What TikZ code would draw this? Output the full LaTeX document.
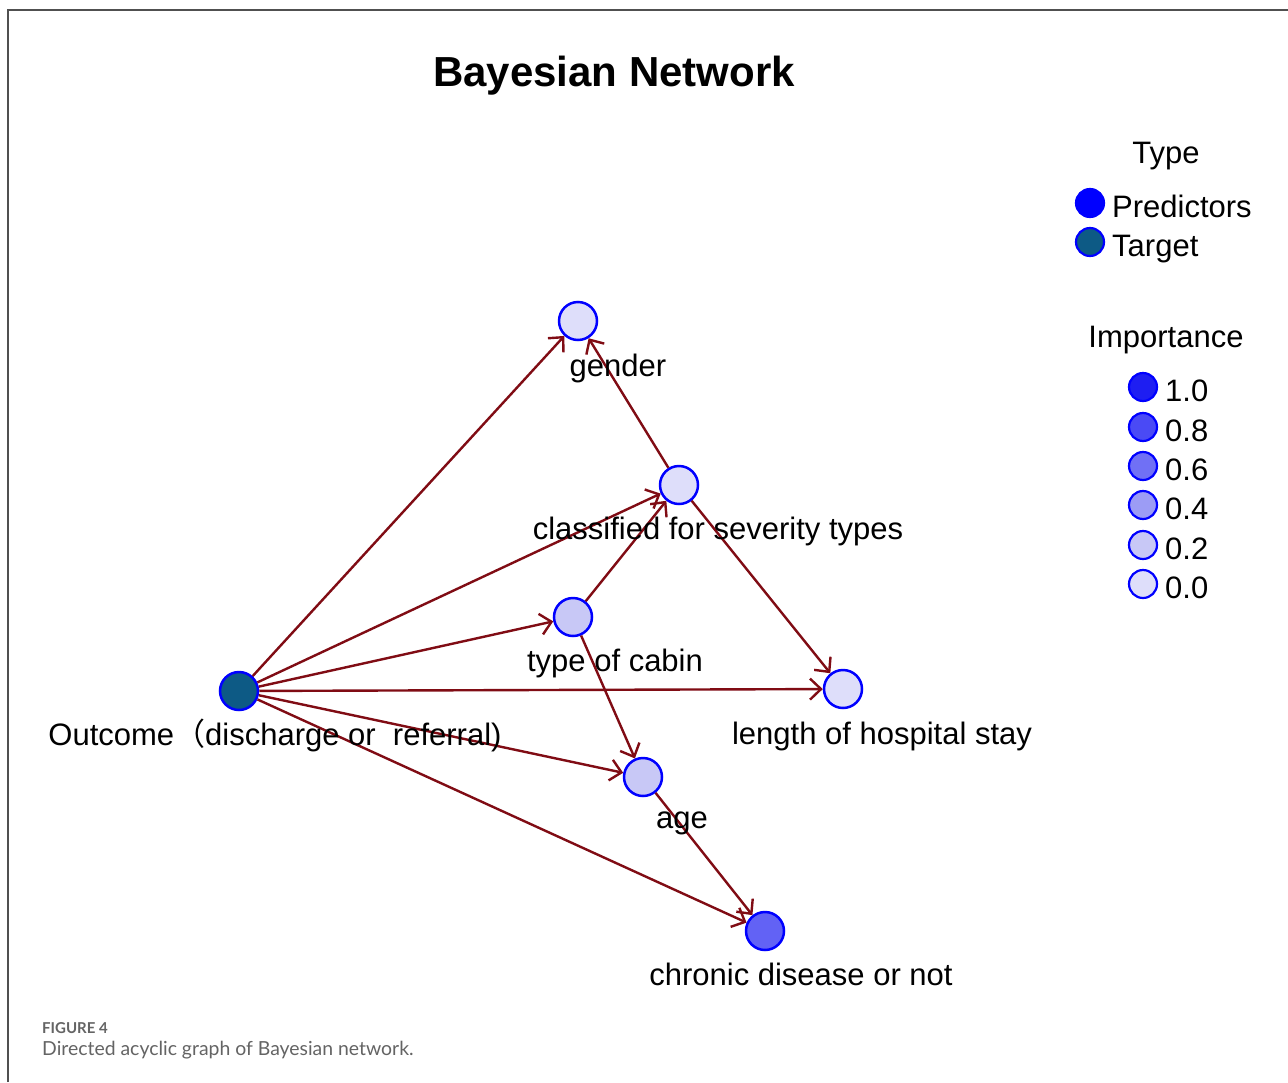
\documentclass[tikz,border=0pt]{standalone}
\usepackage{fontspec}
\setmainfont{Liberation Sans}
\newfontfamily\cjk{Noto Sans CJK SC}
\newfontfamily\capfont{Lato}
\usetikzlibrary{arrows.meta}
\definecolor{edgecol}{RGB}{128,12,20}
\definecolor{framecol}{RGB}{80,80,80}
\definecolor{impA}{RGB}{222,222,250}
\definecolor{impB}{RGB}{200,200,246}
\definecolor{impC}{RGB}{156,156,245}
\definecolor{impD}{RGB}{112,112,245}
\definecolor{impE}{RGB}{74,74,245}
\definecolor{impF}{RGB}{30,30,242}
\definecolor{chroniccol}{RGB}{98,98,245}
\definecolor{targetcol}{RGB}{13,90,133}
\definecolor{capgray}{RGB}{100,100,100}
\begin{document}
\begin{tikzpicture}[x=1pt,y=-1pt,
  bnode/.style={circle, draw=blue, line width=2.5pt, minimum size=38pt, inner sep=0pt},
  legnode/.style={circle, draw=blue, line width=2.2pt, minimum size=28pt, inner sep=0pt},
  conn/.style={draw=edgecol, line width=2.4pt, -{Straight Barb[length=11pt,width=21pt,line width=2.4pt]}},
  lbl/.style={anchor=base, inner sep=0pt, font=\fontsize{31}{36}\selectfont},
  leglbl/.style={anchor=base west, inner sep=0pt, font=\fontsize{31}{36}\selectfont}]
\useasboundingbox (0,0) rectangle (1288,1082);
\fill[white] (0,0) rectangle (1288,1082);
% frame
\draw[framecol, line width=2.5pt] (8,1082) -- (8,10) -- (1290,10);
% title
\node[anchor=base, inner sep=0pt, font=\bfseries\fontsize{42}{48}\selectfont] (title) at (614,86) {Bayesian Network};
% nodes
\node[bnode, fill=impA] (gender) at (578,321) {};
\node[bnode, fill=impA] (sev) at (679,485) {};
\node[bnode, fill=impB] (cabin) at (573,617) {};
\node[bnode, fill=targetcol] (out) at (239,691) {};
\node[bnode, fill=impA] (stay) at (843,689) {};
\node[bnode, fill=impB] (age) at (643,777) {};
\node[bnode, fill=chroniccol] (chron) at (765,931) {};
% edges
\draw[conn] (out) -- (gender);
\draw[conn] (out) -- (sev);
\draw[conn] (out) -- (cabin);
\draw[conn] (out) -- (stay);
\draw[conn] (out) -- (age);
\draw[conn] (out) -- (chron);
\draw[conn] (sev) -- (gender);
\draw[conn] (sev) -- (stay);
\draw[conn] (cabin) -- (sev);
\draw[conn] (cabin) -- (age);
\draw[conn] (age) -- (chron);
% labels
\node[lbl] (lgender) at (618,376) {gender};
\node[lbl] (lsev) at (718,539) {classified for severity types};
\node[lbl] (lcabin) at (615,671) {type of cabin};
\node[lbl] (lout) at (275,745) {Outcome{\cjk （}discharge or\ \ referral)};
\node[lbl] (lstay) at (882,744) {length of hospital stay};
\node[lbl] (lage) at (682,828) {age};
\node[lbl] (lchron) at (801,985) {chronic disease or not};
% legend
\node[lbl] (ltype) at (1166,163) {Type};
\node[legnode, draw=blue, fill=blue] (kpred) at (1090,203) {};
\node[leglbl] (tpred) at (1112,217) {Predictors};
\node[legnode, fill=targetcol] (ktarg) at (1090,242) {};
\node[leglbl] (ttarg) at (1112,256) {Target};
\node[lbl] (limp) at (1166,347) {Importance};
\node[legnode, fill=impF] (k10) at (1143,387) {};
\node[legnode, fill=impE] (k08) at (1143,427) {};
\node[legnode, fill=impD] (k06) at (1143,466) {};
\node[legnode, fill=impC] (k04) at (1143,505) {};
\node[legnode, fill=impB] (k02) at (1143,545) {};
\node[legnode, fill=impA] (k00) at (1143,584) {};
\node[leglbl] (t10) at (1165,401) {1.0};
\node[leglbl] (t08) at (1165,441) {0.8};
\node[leglbl] (t06) at (1165,480) {0.6};
\node[leglbl] (t04) at (1165,519) {0.4};
\node[leglbl] (t02) at (1165,559) {0.2};
\node[leglbl] (t00) at (1165,598) {0.0};
% caption
\node[anchor=base west, inner sep=0pt, text=capgray, font=\capfont\bfseries\fontsize{15}{18}\selectfont] (capA) at (42,1033) {FIGURE 4};
\node[anchor=base west, inner sep=0pt, text=capgray, font=\capfont\fontsize{19.4}{22}\selectfont] (capB) at (42,1055) {Directed acyclic graph of Bayesian network.};
\end{tikzpicture}
\end{document}
